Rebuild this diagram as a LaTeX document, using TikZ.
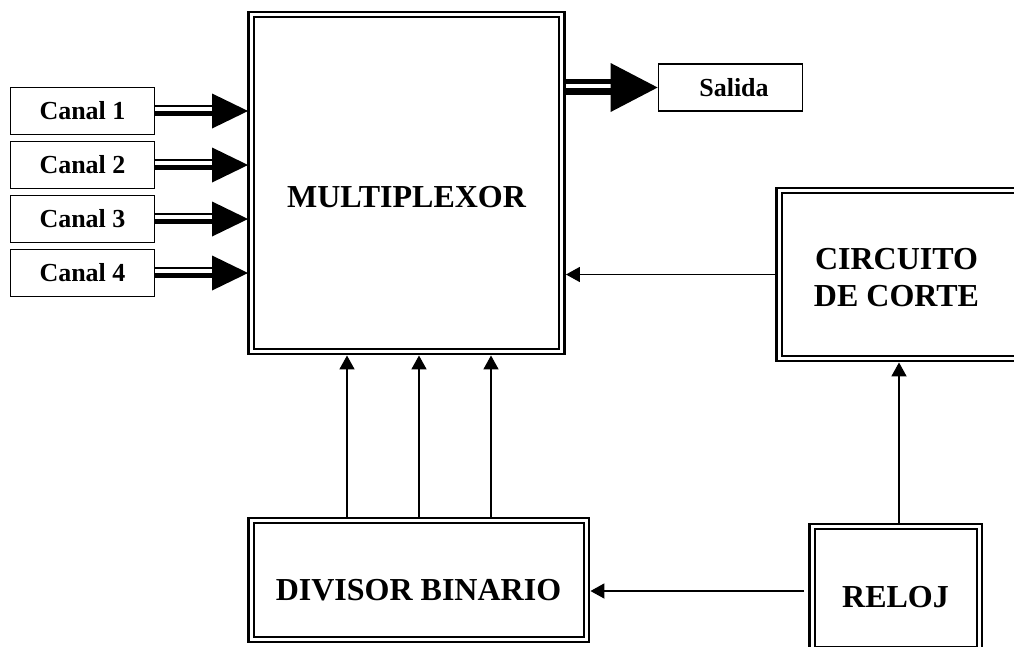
\documentclass[tikz,border=0pt]{standalone}
\usepackage{fontspec}
\setmainfont{Liberation Serif}
\usetikzlibrary{arrows.meta,calc}
\begin{document}
\begin{tikzpicture}[x=1pt,y=-1pt,
  bigbox/.style={draw, line width=2.9pt, inner sep=0pt},
  chbox/.style={draw, line width=1.8pt, inner sep=0pt, minimum width=144pt, minimum height=47pt,
    font=\bfseries\fontsize{26}{30}\selectfont},
  biglbl/.style={font=\bfseries\fontsize{32}{37}\selectfont, align=center, inner sep=0pt},
  thinarrow/.style={line width=1.8pt, -{Triangle[length=14pt,width=15pt]}},
  innerline/.style={line width=1.9pt}
]
\useasboundingbox (0,0) rectangle (1014,646);
\clip (0,0) rectangle (1014,646);

% big double-framed boxes
\node[bigbox, minimum width=316pt, minimum height=342pt] (mux) at (406.5,183) {};
\node[bigbox, minimum width=263pt, minimum height=173pt] (circ) at (908,274.5) {};
\node[bigbox, minimum width=340.5pt, minimum height=124pt] (div) at (418.75,580) {};
\node[bigbox, minimum width=172.5pt, minimum height=128pt] (reloj) at (895.75,588) {};
\foreach \n in {mux,circ,div,reloj}
  \draw[innerline] ($(\n.north west)+(6.6,6.6)$) rectangle ($(\n.south east)+(-6.6,-6.6)$);

% labels
\node[biglbl] (muxt) at (406.5,197) {MULTIPLEXOR};
\node[biglbl] (circt) at (896.5,278) {CIRCUITO\\DE CORTE};
\node[biglbl] (divt) at (418.5,590) {DIVISOR BINARIO};
\node[biglbl] (relojt) at (895.5,597) {RELOJ};

% channel boxes
\foreach \i/\y in {1/111,2/165,3/219,4/273}
  \node[chbox] (c\i) at (82.5,\y) {\raisebox{-2pt}{Canal \i}};
\node[chbox] (sal) at (730.5,87.5) {\raisebox{-2.5pt}{\hspace{7pt}Salida}};

% fat double arrows into the multiplexer
\foreach \i in {1,...,4} {
  \draw[line width=2.4pt] ($(c\i.east)+(0,-5)$) -- ($(mux.west |- c\i.east)+(-34,-5)$);
  \draw[line width=5.8pt] ($(c\i.east)+(0,2.5)$) -- ($(mux.west |- c\i.east)+(-34,2.5)$);
  \fill ($(mux.west |- c\i.east)+(1,0)$) -- ++(-36,-17.5) -- ++(0,35) -- cycle;
}
% fat double arrow to Salida
\draw[line width=4.2pt] ($(mux.east |- sal.west)+(0,-6)$) -- ($(sal.west)+(-46,-6)$);
\draw[line width=6.8pt] ($(mux.east |- sal.west)+(0,4.2)$) -- ($(sal.west)+(-46,4.2)$);
\fill (sal.west) -- ++(-47,-24.5) -- ++(0,49) -- cycle;

% thin arrows
\draw[thinarrow] (circ.west) -- (mux.east |- circ.west);
\foreach \x in {347,419,491}
  \draw[thinarrow] (div.north -| \x,0) -- (mux.south -| \x,0);
\draw[thinarrow] ($(reloj.west)+(-4,3)$) -- ($(div.east |- reloj.west)+(0,3)$);
\draw[thinarrow] (reloj.north -| 899,0) -- (circ.south -| 899,0);
\end{tikzpicture}
\end{document}
